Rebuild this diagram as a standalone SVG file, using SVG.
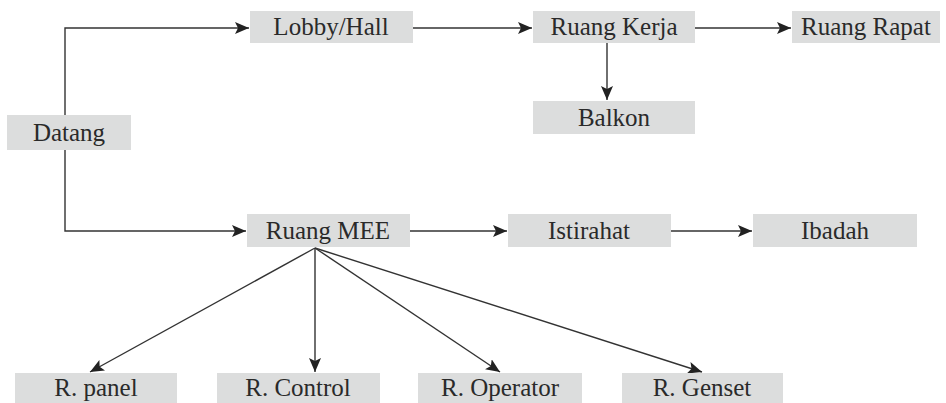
<svg xmlns="http://www.w3.org/2000/svg" width="946" height="403" viewBox="0 0 946 403">
<style>
.box{fill:#dcdddd}
text{font-family:'Liberation Serif','DejaVu Serif',serif;font-size:25px;fill:#2a2a2a;text-anchor:middle}
.ln{fill:none;stroke:#333;stroke-width:1.4}
</style>
<defs>
<marker id="ah" markerUnits="userSpaceOnUse" markerWidth="16" markerHeight="12" refX="14" refY="6" orient="auto">
<path d="M0,0 L14,6 L0,12 L3,6 Z" fill="#222"/>
</marker>
</defs>
<rect width="946" height="403" fill="#fff"/>
<g id="connectors">
<path class="ln" d="M65,115 V28 H249" marker-end="url(#ah)"/>
<path class="ln" d="M65,150 V231 H246" marker-end="url(#ah)"/>
<path class="ln" d="M413,28 H532" marker-end="url(#ah)"/>
<path class="ln" d="M695,28 H791" marker-end="url(#ah)"/>
<path class="ln" d="M607,43 V100" marker-end="url(#ah)"/>
<path class="ln" d="M410,231 H507" marker-end="url(#ah)"/>
<path class="ln" d="M671,231 H752" marker-end="url(#ah)"/>
<path class="ln" d="M315,248 L90,372" marker-end="url(#ah)"/>
<path class="ln" d="M315,248 V372" marker-end="url(#ah)"/>
<path class="ln" d="M315,248 L500,372" marker-end="url(#ah)"/>
<path class="ln" d="M315,248 L702,372" marker-end="url(#ah)"/>
</g>
<g id="datang"><rect class="box" x="7" y="115" width="124" height="35"/><text font-family="Liberation Serif" x="69" y="141">Datang</text></g>
<g id="lobby"><rect class="box" x="250" y="11" width="163" height="32"/><text x="331" y="35">Lobby/Hall</text></g>
<g id="kerja"><rect class="box" x="533" y="11" width="162" height="32"/><text x="614" y="35">Ruang Kerja</text></g>
<g id="rapat"><rect class="box" x="792" y="11" width="148" height="32"/><text x="866" y="35">Ruang Rapat</text></g>
<g id="balkon"><rect class="box" x="533" y="101" width="162" height="33"/><text x="614" y="126">Balkon</text></g>
<g id="mee"><rect class="box" x="247" y="214" width="163" height="33"/><text x="328" y="239">Ruang MEE</text></g>
<g id="istirahat"><rect class="box" x="508" y="214" width="163" height="33"/><text x="589" y="239">Istirahat</text></g>
<g id="ibadah"><rect class="box" x="753" y="214" width="164" height="33"/><text x="835" y="239">Ibadah</text></g>
<g id="panel"><rect class="box" x="15" y="373" width="162" height="33"/><text x="96" y="396">R. panel</text></g>
<g id="control"><rect class="box" x="217" y="373" width="163" height="33"/><text x="298" y="396">R. Control</text></g>
<g id="operator"><rect class="box" x="418" y="373" width="164" height="33"/><text x="500" y="396">R. Operator</text></g>
<g id="genset"><rect class="box" x="622" y="373" width="161" height="33"/><text x="702" y="396">R. Genset</text></g>
</svg>
